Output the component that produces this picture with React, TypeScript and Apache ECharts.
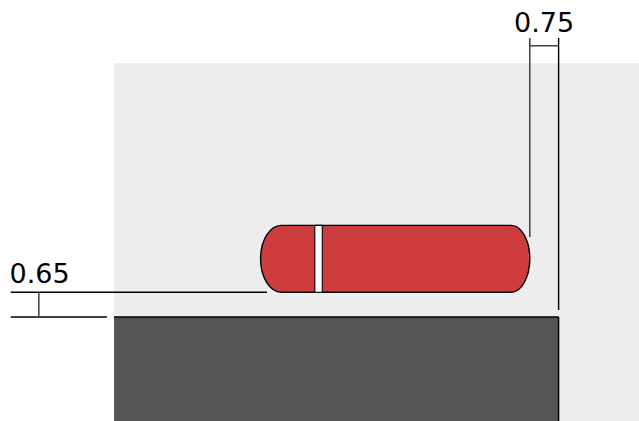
import React, { useEffect, useRef } from "react";
import * as echarts from "echarts";

const xRange = [-11.89, 2.15];
const yRange = [-2.78, 6.79];
const groundRect = [[-11.89, 0, 0, -2.78]];
const groundEdges = [
  [-11.89, 0, 0, 0],
  [0, 0, 0, -2.78],
];
// x of left extreme, left shoulder, right shoulder, right extreme, y of bottom and top
const carBody = [[-7.97, -7.42, -1.27, -0.77, 0.66, 2.45]];
const carStripe = [[-6.52, -6.32, 0.66, 2.45]];
const blackSegments = [
  [-14.65, 0.66, -7.8, 0.66],
  [-14.65, 0, -12.08, 0],
  [0, 7.46, 0, 0.19],
];
const greySegments = [
  [-13.9, 0.66, -13.9, 0],
  [-0.77, 7.46, -0.77, 2.14],
  [-0.77, 7.25, 0, 7.25],
];
const dimLabels: [number, number, string][] = [
  [-0.39, 7.87, "0.75"],
  [-13.88, 1.17, "0.65"],
];

echarts.graphic.registerShape(
  "carBody",
  echarts.graphic.extendShape({
    shape: { l: 0, ls: 0, rs: 0, r: 0, t: 0, b: 0 },
    buildPath(ctx: any, s: any) {
      const m = (s.t + s.b) / 2;
      const k = 0.55;
      ctx.moveTo(s.ls, s.t);
      ctx.lineTo(s.rs, s.t);
      ctx.bezierCurveTo(s.rs + (s.r - s.rs) * k, s.t, s.r, m - (m - s.t) * k, s.r, m);
      ctx.bezierCurveTo(s.r, m + (s.b - m) * k, s.rs + (s.r - s.rs) * k, s.b, s.rs, s.b);
      ctx.lineTo(s.ls, s.b);
      ctx.bezierCurveTo(s.ls - (s.ls - s.l) * k, s.b, s.l, m + (s.b - m) * k, s.l, m);
      ctx.bezierCurveTo(s.l, m - (m - s.t) * k, s.ls - (s.ls - s.l) * k, s.t, s.ls, s.t);
      ctx.closePath();
    },
  } as any)
);

function segmentSeries(data: number[][], color: string, z: number) {
  return {
    type: "custom",
    coordinateSystem: "cartesian2d",
    silent: true,
    clip: false,
    z,
    data,
    encode: { x: [0, 2], y: [1, 3] },
    renderItem: (_: any, api: any) => {
      const a = api.coord([api.value(0), api.value(1)]);
      const b = api.coord([api.value(2), api.value(3)]);
      return {
        type: "line",
        shape: { x1: a[0], y1: a[1], x2: b[0], y2: b[1] },
        style: { stroke: color, lineWidth: 1.4 },
      };
    },
  };
}

export default function App() {
  const ref = useRef<HTMLDivElement>(null);
  useEffect(() => {
    document.body.style.margin = "0";
    const chart = echarts.init(ref.current!, null, { renderer: "svg" });
    chart.setOption({
      animation: false,
      backgroundColor: "#ffffff",
      grid: {
        left: 114,
        right: 0,
        top: 63,
        bottom: 0,
        show: true,
        backgroundColor: "#ededed",
        borderWidth: 0,
      },
      xAxis: { type: "value", min: xRange[0], max: xRange[1], show: false },
      yAxis: { type: "value", min: yRange[0], max: yRange[1], show: false },
      series: [
        {
          type: "custom",
          silent: true,
          clip: false,
          z: 2,
          data: groundRect,
          encode: { x: [0, 2], y: [1, 3] },
          renderItem: (_: any, api: any) => {
            const a = api.coord([api.value(0), api.value(1)]);
            const b = api.coord([api.value(2), api.value(3)]);
            return {
              type: "rect",
              shape: { x: a[0], y: a[1], width: b[0] - a[0], height: b[1] - a[1] },
              style: { fill: "#555555" },
            };
          },
        },
        segmentSeries(groundEdges, "#000000", 3),
        {
          type: "custom",
          silent: true,
          clip: false,
          z: 4,
          data: carBody,
          encode: { x: [0, 3], y: [4, 5] },
          renderItem: (_: any, api: any) => {
            const bl = api.coord([api.value(0), api.value(4)]);
            const tl = api.coord([api.value(1), api.value(5)]);
            const tr = api.coord([api.value(2), api.value(5)]);
            const br = api.coord([api.value(3), api.value(4)]);
            return {
              type: "carBody",
              shape: { l: bl[0], ls: tl[0], rs: tr[0], r: br[0], t: tl[1], b: bl[1] },
              style: { fill: "#cd3d3d", stroke: "#000000", lineWidth: 1.4 },
            };
          },
        },
        {
          type: "custom",
          silent: true,
          clip: false,
          z: 5,
          data: carStripe,
          encode: { x: [0, 1], y: [2, 3] },
          renderItem: (_: any, api: any) => {
            const a = api.coord([api.value(0), api.value(3)]);
            const b = api.coord([api.value(1), api.value(2)]);
            return {
              type: "rect",
              shape: { x: a[0], y: a[1], width: b[0] - a[0], height: b[1] - a[1] },
              style: { fill: "#ffffff", stroke: "#000000", lineWidth: 1.1 },
            };
          },
        },
        segmentSeries(blackSegments, "#000000", 6),
        segmentSeries(greySegments, "#333333", 6),
        {
          type: "custom",
          silent: true,
          clip: false,
          z: 7,
          data: dimLabels,
          encode: { x: 0, y: 1 },
          renderItem: (params: any, api: any) => {
            const p = api.coord([api.value(0), api.value(1)]);
            return {
              type: "text",
              x: p[0],
              y: p[1],
              style: {
                text: dimLabels[params.dataIndex][2],
                fill: "#000000",
                fontFamily: "DejaVu Sans",
                fontSize: 27,
                align: "center",
                verticalAlign: "middle",
              },
            };
          },
        },
      ],
    });
    return () => chart.dispose();
  }, []);
  return <div ref={ref} style={{ width: 639, height: 421 }} />;
}
